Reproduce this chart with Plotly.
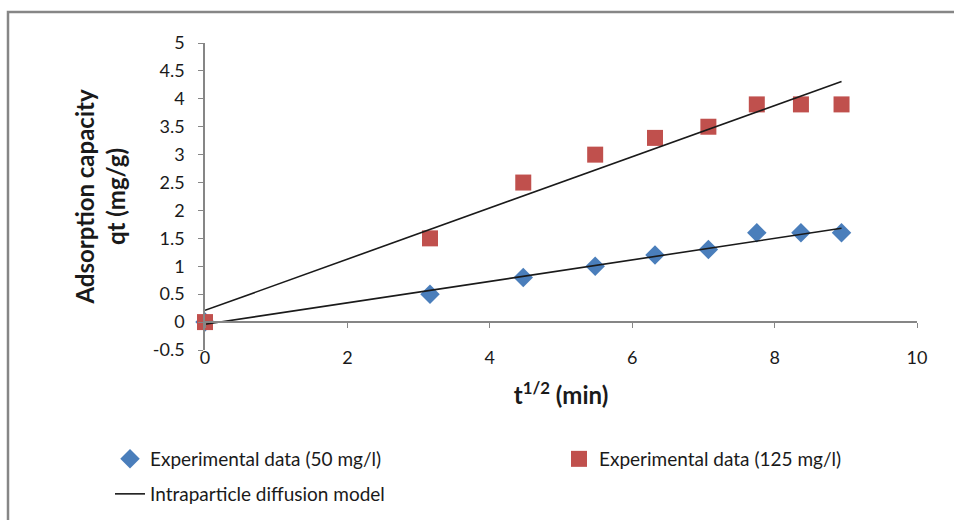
import plotly.graph_objects as go

# Data
sqrt_t = [0, 3.16, 4.47, 5.48, 6.32, 7.07, 7.75, 8.37, 8.94]
qt_50 = [0, 0.5, 0.8, 1.0, 1.2, 1.3, 1.6, 1.6, 1.6]
qt_125 = [0, 1.5, 2.5, 3.0, 3.3, 3.5, 3.9, 3.9, 3.9]
fit_x = [0, 8.94]
fit_50 = [-0.04, 1.68]
fit_125 = [0.21, 4.31]
y_ticks = [-0.5, 0, 0.5, 1, 1.5, 2, 2.5, 3, 3.5, 4, 4.5, 5]
y_ticktext = ["-0.5", "0", "0.5", "1", "1.5", "2", "2.5", "3", "3.5", "4", "4.5", "5"]
x_ticks = [0, 2, 4, 6, 8, 10]

FONT = "Lato"
W, H = 954, 520
L, R, T, B = 205, 37, 43, 170
pw, ph = W - L - R, H - T - B

def px(xp):
    return (xp - L) / pw

def py(yp):
    return (H - B - yp) / ph

fig = go.Figure()
fig.add_trace(go.Scatter(
    x=sqrt_t, y=qt_50, mode="markers", name="Experimental data (50 mg/l)",
    marker=dict(symbol="diamond", size=15, color="#4a7ebb"), legend="legend",
    cliponaxis=False))
fig.add_trace(go.Scatter(
    x=sqrt_t, y=qt_125, mode="markers", name="Experimental data (125 mg/l)",
    marker=dict(symbol="square", size=16, color="#c0504d"), legend="legend3",
    cliponaxis=False))
fig.add_trace(go.Scatter(
    x=fit_x, y=fit_50, mode="lines", name="Intraparticle diffusion model",
    line=dict(color="#1a1a1a", width=1.6), xaxis="x2", legend="legend2"))
fig.add_trace(go.Scatter(
    x=fit_x, y=fit_125, mode="lines", name="Intraparticle diffusion model",
    line=dict(color="#1a1a1a", width=1.6), xaxis="x2", showlegend=False))

zero_pos = 0.5 / 5.5
leg_common = dict(orientation="h", xanchor="left", yanchor="top",
                  font=dict(size=19, color="#1a1a1a"), bgcolor="rgba(0,0,0,0)")

fig.update_layout(
    width=W, height=H,
    margin=dict(l=L, r=R, t=T, b=B, autoexpand=False),
    paper_bgcolor="white", plot_bgcolor="white",
    font=dict(family=FONT, color="#1a1a1a", size=18),
    xaxis=dict(range=[0, 10], tickvals=x_ticks, showgrid=False, zeroline=False,
               showline=False, ticks="", showticklabels=False,
               title=dict(text="<b>t<sup>1/2</sup> (min)</b>", font=dict(size=24), standoff=37)),
    xaxis2=dict(range=[0, 10], tickvals=x_ticks, overlaying="x", anchor="free",
                position=zero_pos, showgrid=False, zeroline=False, showline=True,
                linecolor="#868686", linewidth=1.5, ticks="outside", ticklen=5,
                tickcolor="#868686", showticklabels=True, tickfont=dict(size=18),
                ticklabelstandoff=15),
    yaxis=dict(range=[-0.5, 5], tickvals=y_ticks, ticktext=y_ticktext, showgrid=False,
               zeroline=False, showline=True, linecolor="#868686", linewidth=1.5,
               ticks="outside", ticklen=5, tickcolor="#868686", tickfont=dict(size=18),
               ticklabelstandoff=10,
               title=dict(text="<b>Adsorption capacity<br>qt (mg/g)</b>", font=dict(size=24), standoff=20)),
    legend=dict(x=px(110), y=py(440), **leg_common),
    legend3=dict(x=px(559), y=py(440), **leg_common),
    legend2=dict(x=px(110), y=py(475), **leg_common),
    shapes=[dict(type="rect", xref="paper", yref="paper",
                 x0=px(8), x1=px(970), y0=py(540), y1=py(12),
                 line=dict(color="#868686", width=2.5), fillcolor="rgba(0,0,0,0)", layer="below")],
    showlegend=True,
)

fig.write_html("out.html")
